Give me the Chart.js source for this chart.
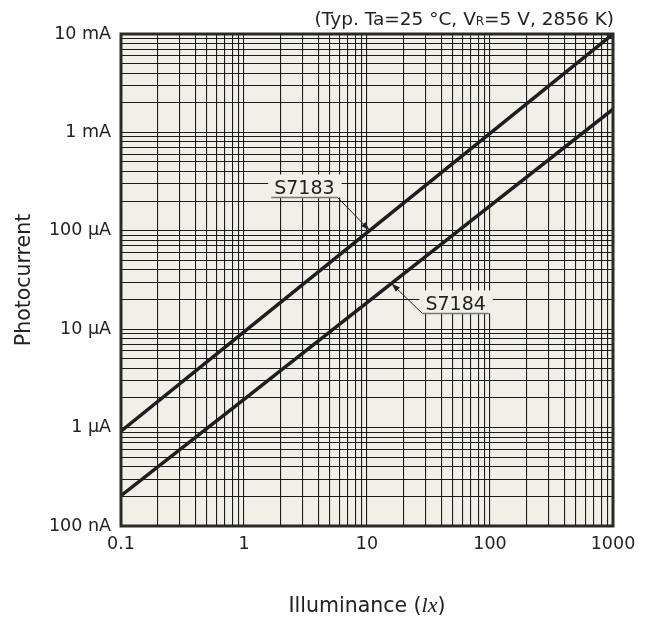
<!DOCTYPE html>
<html>
<head>
<meta charset="utf-8">
<script src="https://cdn.jsdelivr.net/npm/chart.js@4.4.0/dist/chart.umd.min.js"></script>
<style>
  html, body { margin: 0; padding: 0; background: #fff; }
  #wrap { width: 651px; height: 626px; }
</style>
</head>
<body>
<div id="wrap"><canvas id="chart"></canvas></div>
<script>
// data
const illuminance = [0.1, 1, 10, 100, 1000];
const s7183 = [9.2e-7, 9.4e-6, 9.6e-5, 9.8e-4, 1.0e-2];
const s7184 = [2.03e-7, 1.94e-6, 1.86e-5, 1.79e-4, 1.72e-3];
const seriesNames = ["S7183", "S7184"];
const arrowAt = [10.5, 15.8]; // lx where the label arrows touch the lines

const xTicks = [0.1, 1, 10, 100, 1000];
const xTickLabels = ["0.1", "1", "10", "100", "1000"];
const yTicks = [1e-7, 1e-6, 1e-5, 1e-4, 1e-3, 1e-2];
const yTickLabels = ["100 nA", "1 µA", "10 µA", "100 µA", "1 mA", "10 mA"];

const FONT = "'DejaVu Sans', sans-serif";
const INK = "#222";
const PAPER = "#f1f0e8";

// 1..9 in every decade, for the grid
function decadeTicks(majors) {
  const out = [];
  for (let i = 0; i < majors.length - 1; i++) {
    for (let k = 1; k < 10; k++) out.push({ value: majors[i] * k });
  }
  out.push({ value: majors[majors.length - 1] });
  return out;
}

function labelFor(value, majors, labels) {
  for (let i = 0; i < majors.length; i++) {
    if (Math.abs(value / majors[i] - 1) < 1e-6) return labels[i];
  }
  return "";
}

// value on a series at x, interpolated in log-log space
function valueAt(xs, ys, x) {
  const lx = Math.log10(x);
  for (let i = 0; i < xs.length - 1; i++) {
    const a = Math.log10(xs[i]), b = Math.log10(xs[i + 1]);
    if (lx >= a && lx <= b) {
      const t = (lx - a) / (b - a);
      return Math.pow(10, Math.log10(ys[i]) + t * (Math.log10(ys[i + 1]) - Math.log10(ys[i])));
    }
  }
  return ys[ys.length - 1];
}

function toPoints(ys) {
  return illuminance.map((x, i) => ({ x: x, y: ys[i] }));
}

const decor = {
  id: "decor",
  beforeDraw(chart) {
    const { ctx, chartArea: a } = chart;
    ctx.save();
    ctx.fillStyle = PAPER;
    ctx.fillRect(a.left, a.top, a.right - a.left, a.bottom - a.top);
    ctx.restore();
  },
  afterDatasetsDraw(chart) {
    const { ctx } = chart;
    const xs = chart.scales.x, ys = chart.scales.y;
    const series = [s7183, s7184];
    // label geometry relative to the arrow tip (dx, dy of underline end, side)
    const layout = [
      { dx: -32, dy: -33, side: -1 },
      { dx: 31, dy: 30, side: 1 }
    ];
    ctx.save();
    ctx.font = "19px " + FONT;
    ctx.textBaseline = "alphabetic";
    for (let i = 0; i < series.length; i++) {
      const tx = xs.getPixelForValue(arrowAt[i]);
      const ty = ys.getPixelForValue(valueAt(illuminance, series[i], arrowAt[i]));
      const L = layout[i];
      const ex = tx + L.dx, ey = ty + L.dy;
      const w = ctx.measureText(seriesNames[i]).width + 6;
      const x0 = L.side < 0 ? ex - w : ex;
      // box hiding the grid
      ctx.fillStyle = PAPER;
      ctx.fillRect(x0 - 3, ey - 23, w + 7, 23);
      ctx.fillStyle = INK;
      ctx.textAlign = "center";
      ctx.fillText(seriesNames[i], x0 + w / 2, ey - 3);
      // underline
      ctx.strokeStyle = "#777";
      ctx.lineWidth = 1.5;
      ctx.beginPath();
      ctx.moveTo(x0, ey);
      ctx.lineTo(x0 + w, ey);
      ctx.stroke();
      // leader
      ctx.strokeStyle = INK;
      ctx.lineWidth = 1;
      ctx.beginPath();
      ctx.moveTo(ex, ey);
      ctx.lineTo(tx, ty);
      ctx.stroke();
      // arrow head
      const ang = Math.atan2(ty - ey, tx - ex);
      const hl = 9, hw = 3;
      ctx.beginPath();
      ctx.moveTo(tx, ty);
      ctx.lineTo(tx - hl * Math.cos(ang) + hw * Math.sin(ang), ty - hl * Math.sin(ang) - hw * Math.cos(ang));
      ctx.lineTo(tx - hl * Math.cos(ang) - hw * Math.sin(ang), ty - hl * Math.sin(ang) + hw * Math.cos(ang));
      ctx.closePath();
      ctx.fill();
    }
    ctx.restore();
  },
  afterDraw(chart) {
    const { ctx, chartArea: a } = chart;
    ctx.save();
    // frame
    ctx.strokeStyle = "#2a2a2a";
    ctx.lineWidth = 3;
    ctx.strokeRect(a.left, a.top, a.right - a.left, a.bottom - a.top);

    // conditions, top right
    ctx.fillStyle = INK;
    ctx.textBaseline = "alphabetic";
    ctx.textAlign = "left";
    const big = "18.5px " + FONT, small = "12px " + FONT;
    const parts = [
      ["(Typ. Ta=25 °C, V", big],
      ["R", small],
      ["=5 V, 2856 K)", big]
    ];
    let total = 0;
    parts.forEach(p => { ctx.font = p[1]; total += ctx.measureText(p[0]).width; });
    let px = a.right + 1 - total;
    parts.forEach(p => {
      ctx.font = p[1];
      ctx.fillText(p[0], px, 25);
      px += ctx.measureText(p[0]).width;
    });

    // x axis title with italic unit
    const tparts = [
      ["Illuminance (", "20.5px " + FONT],
      ["lx", "italic 22px 'Liberation Serif', serif"],
      [")", "20.5px " + FONT]
    ];
    total = 0;
    tparts.forEach(p => { ctx.font = p[1]; total += ctx.measureText(p[0]).width; });
    px = (a.left + a.right) / 2 - total / 2;
    tparts.forEach(p => {
      ctx.font = p[1];
      ctx.fillText(p[0], px, 612);
      px += ctx.measureText(p[0]).width;
    });
    ctx.restore();
  }
};

new Chart(document.getElementById("chart"), {
  type: "line",
  data: {
    datasets: [
      {
        label: seriesNames[0],
        data: toPoints(s7183),
        borderColor: "#1e1e1e",
        borderWidth: 3.5,
        pointRadius: 0,
        fill: false
      },
      {
        label: seriesNames[1],
        data: toPoints(s7184),
        borderColor: "#1e1e1e",
        borderWidth: 3.5,
        pointRadius: 0,
        fill: false
      }
    ]
  },
  options: {
    responsive: true,
    maintainAspectRatio: false,
    animation: false,
    layout: { padding: { top: 34, right: 38, left: 0, bottom: 0 } },
    plugins: {
      legend: { display: false },
      tooltip: { enabled: false }
    },
    scales: {
      x: {
        type: "logarithmic",
        min: 0.1,
        max: 1000,
        afterBuildTicks: (s) => { s.ticks = decadeTicks(xTicks); },
        afterFit: (s) => { s.height = 100; },
        grid: { color: "rgba(15,15,15,0.95)", lineWidth: 1.1, drawTicks: false },
        border: { display: false },
        ticks: {
          autoSkip: false,
          maxRotation: 0,
          padding: 8,
          color: INK,
          font: { family: FONT, size: 17.5 },
          callback: (v) => labelFor(v, xTicks, xTickLabels)
        }
      },
      y: {
        type: "logarithmic",
        min: 1e-7,
        max: 1e-2,
        afterBuildTicks: (s) => { s.ticks = decadeTicks(yTicks); },
        afterFit: (s) => { s.width = 121; },
        grid: { color: "rgba(15,15,15,0.95)", lineWidth: 1.1, drawTicks: false },
        border: { display: false },
        title: {
          display: true,
          text: "Photocurrent",
          color: INK,
          font: { family: FONT, size: 20.5 },
          padding: { top: 12, bottom: 0 }
        },
        ticks: {
          autoSkip: false,
          padding: 10,
          color: INK,
          font: { family: FONT, size: 17.5 },
          callback: (v) => labelFor(v, yTicks, yTickLabels)
        }
      }
    }
  },
  plugins: [decor]
});
</script>
</body>
</html>
